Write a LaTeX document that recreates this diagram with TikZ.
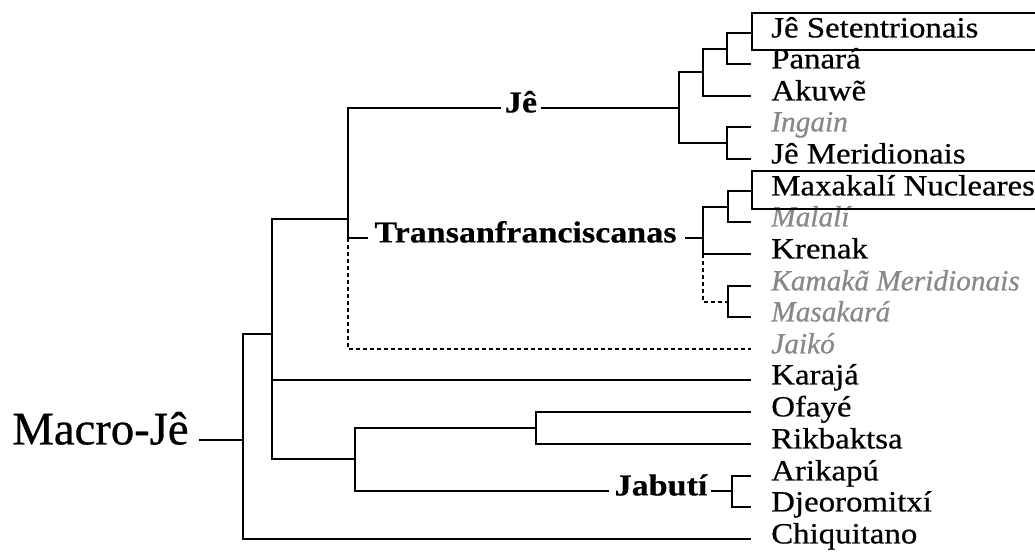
\documentclass[tikz,border=0pt]{standalone}
\usepackage{fontspec}
\setmainfont{Liberation Serif}[FakeStretch=1.12, FakeBold=0.6,
  BoldFeatures={FakeBold=0.4}, ItalicFeatures={FakeStretch=1.0}]
\newfontfamily\rootfont{Liberation Serif}[FakeBold=0.6]
\definecolor{lostgray}{RGB}{136,136,136}

\tikzset{
  txt/.style={inner sep=0pt, text height=0.662em, text depth=0pt,
              font=\fontsize{22}{26}\selectfont},
  leaf/.style={txt, anchor=west},
  extinct/.style={leaf, text=lostgray, font=\fontsize{22}{26}\selectfont\itshape},
  clade/.style={txt, anchor=center, font=\fontsize{22.8}{27}\selectfont\bfseries},
  rootlabel/.style={inner sep=0pt, text height=0.662em, text depth=0pt,
              anchor=center, font=\fontsize{35}{40}\selectfont\rootfont},
  edge/.style={line width=0.8pt, black},
  uncertain/.style={edge, dash pattern=on 3pt off 2.25pt},
  subgroup/.style={line width=1.6pt, black},
  tip/.style={xshift=-15pt}
}

\begin{document}
\begin{tikzpicture}[x=0.75pt, y=-0.75pt]
\useasboundingbox (0,0) rectangle (1035,554);

% ---- languages ----
\node[leaf]    (setent) at (771,33)  {Jê Setentrionais};
\node[leaf]    (panara) at (771,64)  {Panará};
\node[leaf]    (akuwe)  at (771,96)  {Akuwẽ};
\node[extinct] (ingain) at (771,127) {Ingain};
\node[leaf]    (jemer)  at (771,159) {Jê Meridionais};
\node[leaf]    (maxak)  at (771,191) {Maxakalí Nucleares};
\node[extinct] (malali) at (771,222) {Malalí};
\node[leaf]    (krenak) at (771,254) {Krenak};
\node[extinct] (kamaka) at (771,286) {Kamakã Meridionais};
\node[extinct] (masak)  at (771,317) {Masakará};
\node[extinct] (jaiko)  at (771,349) {Jaikó};
\node[leaf]    (karaja) at (771,380) {Karajá};
\node[leaf]    (ofaye)  at (771,412) {Ofayé};
\node[leaf]    (rikb)   at (771,444) {Rikbaktsa};
\node[leaf]    (arik)   at (771,476) {Arikapú};
\node[leaf]    (djeo)   at (771,507) {Djeoromitxí};
\node[leaf]    (chiq)   at (771,539) {Chiquitano};

% ---- named clades ----
\node[clade] (je)    at (521,108)   {Jê};
\node[clade] (trans) at (525.5,238) {Transanfranciscanas};
\node[clade] (jab)   at (661,491)   {Jabutí};
\node[rootlabel] (macro) at (100.5,440) {Macro-Jê};

% ---- branching points ----
\coordinate (a)    at (727,49);
\coordinate (b)    at (703,72);
\coordinate (c)    at (727,143);
\coordinate (jeN)  at (679,108);
\coordinate (d)    at (728,207);
\coordinate (e)    at (728,302);
\coordinate (trN)  at (703,238);
\coordinate (f)    at (348,219);
\coordinate (g)    at (536,428);
\coordinate (h)    at (732,491);
\coordinate (i)    at (355,459);
\coordinate (j)    at (272,334);
\coordinate (root) at (243,440);

% ---- Jê ----
\draw[edge] (a) |- ([tip]setent.west);
\draw[edge] (a) |- ([tip]panara.west);
\draw[edge] (b) |- (a);
\draw[edge] (b) |- ([tip]akuwe.west);
\draw[edge] (c) |- ([tip]ingain.west);
\draw[edge] (c) |- ([tip]jemer.west);
\draw[edge] (jeN) |- (b);
\draw[edge] (jeN) |- (c);
\draw[edge] ([xshift=2.5pt]je.east) -- (jeN);

% ---- Transanfranciscanas ----
\draw[edge] (d) |- ([tip]maxak.west);
\draw[edge] (d) |- ([tip]malali.west);
\draw[edge] (e) |- ([tip]kamaka.west);
\draw[edge] (e) |- ([tip]masak.west);
\draw[edge] (trN) |- (d);
\draw[edge] (trN) |- ([tip]krenak.west);
\draw[uncertain] (trN |- krenak.west) |- (e);
\draw[edge] ([xshift=6pt]trans.east) -- (trN);

% ---- Jê + Transanfranciscanas (+ Jaikó) ----
\draw[edge] (f) |- ([xshift=-2.5pt]je.west);
\draw[edge] (f) |- ([xshift=-5pt]trans.west);
\draw[uncertain] (f |- trans.west) |- ([tip]jaiko.west);

% ---- Ofayé, Rikbaktsa, Jabutí ----
\draw[edge] (g) |- ([tip]ofaye.west);
\draw[edge] (g) |- ([tip]rikb.west);
\draw[edge] (h) |- ([tip]arik.west);
\draw[edge] (h) |- ([tip]djeo.west);
\draw[edge] ([xshift=2.5pt]jab.east) -- (h);
\draw[edge] (i) |- (g);
\draw[edge] (i) |- ([xshift=-4pt]jab.west);

% ---- upper levels ----
\draw[edge] (j) |- (f);
\draw[edge] (j) |- ([tip]karaja.west);
\draw[edge] (j) |- (i);
\draw[edge] (root) |- (j);
\draw[edge] (root) |- ([tip]chiq.west);
\draw[edge] ([xshift=7.5pt]macro.east) -- (root);

% ---- boxed subgroups ----
\draw[subgroup] (1035,13) -| (752,50) -- (1035,50);
\draw[subgroup] (1035,171) -| (752,209) -- (1035,209);
\end{tikzpicture}
\end{document}
